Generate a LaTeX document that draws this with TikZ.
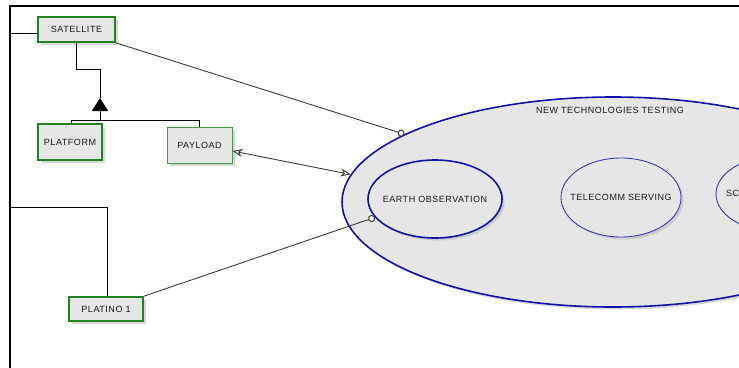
\documentclass[tikz,border=0pt]{standalone}
\usepackage{fontspec}
\setmainfont{Liberation Sans}[LetterSpace=6]
\usepackage{tikz}
\usetikzlibrary{arrows.meta,shapes.geometric,shadows}
\definecolor{umlfill}{RGB}{230,230,230}
\definecolor{umlgreen}{RGB}{38,128,38}
\definecolor{umlgreenlt}{RGB}{70,150,70}
\definecolor{umlblue}{RGB}{18,18,168}
\definecolor{umlbluelt}{RGB}{60,60,180}
\definecolor{linegray}{RGB}{60,60,60}

\begin{document}
\begin{tikzpicture}[
x=1pt,y=-1pt,
font=\fontsize{9}{11}\selectfont,
shade/.style={drop shadow={shadow xshift=2.5pt,shadow yshift=-2.5pt,fill=black!30}},
block/.style={draw=umlgreen,line width=1.6pt,fill=umlfill,inner sep=0pt,text=black!90,shade},
usecase/.style={ellipse,draw=umlblue,line width=1.6pt,fill=umlfill,inner sep=0pt,text=black!90,shade},
assoc/.style={draw=linegray,line width=0.9pt},
tree/.style={draw=black,line width=0.8pt},
frameline/.style={draw=black,line width=2pt},
dot/.style={-{Circle[open,length=7pt,fill=white,line width=1pt]}},
openhead/.tip={Stealth[open,length=10pt,width=8pt,inset=3pt]},
]
\useasboundingbox (0,0) rectangle (739,367);
\clip (0,0) rectangle (739,367);
% frame
\coordinate (corner) at (10,6);
\draw[frameline] (10,370) -- (corner) -- (745,6);
% use cases
\node[usecase,minimum width=542,minimum height=210] (testing) at (613,202) {};
\node[text=black!90] (testinglbl) at (610,110) {NEW TECHNOLOGIES TESTING};
\node[usecase,inner xsep=-6pt,minimum width=134,minimum height=78] (earth) at (435,199) {EARTH OBSERVATION};
\node[usecase,draw=umlbluelt,line width=0.9pt,inner xsep=-10pt,minimum width=120,minimum height=79] (telecomm) at (621,197.5) {TELECOMM SERVING};
\node[usecase,draw=umlbluelt,line width=0.9pt,minimum width=124,minimum height=76] (science) at (778,194) {};
\node[anchor=west,inner sep=0pt,text=black!90] (sciencelbl) at (726,193) {SC};
% blocks
\node[block,minimum width=77,minimum height=25] (satellite) at (76.5,29.5) {SATELLITE};
\node[block,minimum width=64,minimum height=36] (platform) at (70,142) {PLATFORM};
\node[block,draw=umlgreenlt,line width=0.9pt,minimum width=65,minimum height=36] (payload) at (199.5,145) {PAYLOAD};
\node[block,minimum width=74,minimum height=24] (platino) at (106,309) {PLATINO 1};
% generalization
\coordinate (apex) at (100,98);
\coordinate (join) at (100,120);
\draw[tree] (satellite.south) -- ++(0,27) -| (apex);
\draw[tree,-{Triangle[width=16pt,length=13pt]}] ([xshift=1pt]platform.north) |- (join) -- (apex);
\draw[tree] (payload.north) |- (join);
% links to the frame
\coordinate (satlink) at (10,33);
\coordinate (platlink) at (10,207);
\draw[tree] (satlink) -- (satlink -| satellite.west);
\draw[tree] (platlink) -| ([xshift=1pt]platino.north);
% associations
\draw[assoc,dot] (satellite.south east) -- (testing.162);
\draw[assoc,dot] (platino.north east) -- (earth.197);
\draw[assoc,openhead-openhead] ([yshift=-6pt]payload.east) -- (testing.174);
\end{tikzpicture}
\end{document}
